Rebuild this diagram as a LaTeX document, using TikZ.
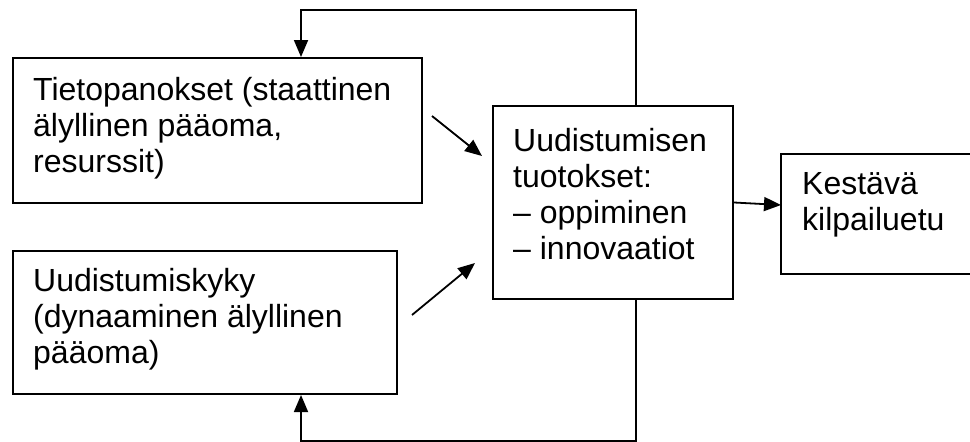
\documentclass[tikz,border=0pt]{standalone}
\usepackage{fontspec}
\setmainfont{Liberation Sans}
\usetikzlibrary{arrows.meta,calc}
\begin{document}
\begin{tikzpicture}[x=1pt,y=-1pt,
  box/.style={draw,line width=2pt,rectangle,inner sep=0pt},
  txt/.style={anchor=base west,inner sep=0pt,align=left,font=\fontsize{32}{36}\selectfont},
  arr/.style={line width=1.8pt,-{Triangle[length=17pt,width=14pt]}},
  ln/.style={line width=1.8pt}]
\useasboundingbox (0,0) rectangle (970,442);
\fill[white] (0,0) rectangle (970,442);
% boxes
\node[box,minimum width=409pt,minimum height=145pt] (b1) at (217.5,130.5) {};
\node[box,minimum width=384pt,minimum height=143pt] (b2) at (205,322.5) {};
\node[box,minimum width=240pt,minimum height=193pt] (b3) at (613,202.5) {};
\node[box,minimum width=194pt,minimum height=120pt] (b4) at (878,214) {};
% texts (anchor = baseline of last line)
\node[txt] (t1) at (33,172) {Tietopanokset (staattinen\\älyllinen pääoma,\\resurssit)};
\node[txt] (t2) at (33,363) {Uudistumiskyky\\(dynaaminen älyllinen\\pääoma)};
\node[txt] (t3) at (513,259) {Uudistumisen\\tuotokset:\\– oppiminen\\– innovaatiot};
\node[txt] (t4) at (802,230) {Kestävä\\kilpailuetu};
% feedback loops
\coordinate (ftr) at (636,10);
\coordinate (ftl) at (301,10);
\coordinate (fbr) at (636,441);
\coordinate (fbl) at (301,441);
\draw[arr] (b3.north -| ftr) -- (ftr) -- (ftl) -- (b1.north -| ftl);
\draw[arr] (b3.south -| fbr) -- (fbr) -- (fbl) -- (b2.south -| fbl);
% input arrows
\coordinate (a1s) at (432,116);
\coordinate (a1e) at (482,156);
\coordinate (a2s) at (412,315);
\coordinate (a2e) at (475,263);
\draw[arr] (a1s) -- (a1e);
\draw[arr] (a2s) -- (a2e);
% output arrow
\coordinate (a3e) at (781,205);
\draw[arr] (b3.east) -- (a3e);
\end{tikzpicture}
\end{document}
